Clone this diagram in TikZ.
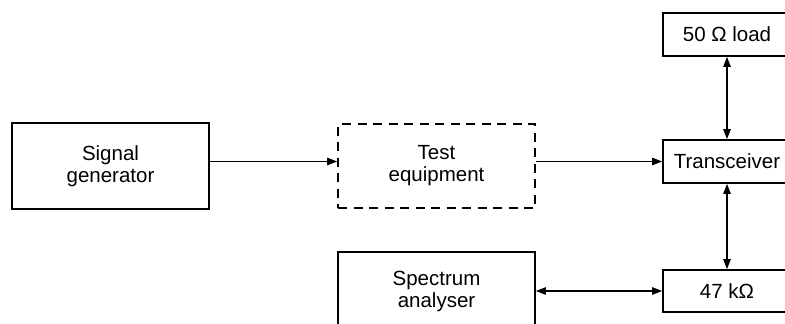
\documentclass[tikz,border=0pt]{standalone}
\usepackage{fontspec}
\setmainfont{Liberation Sans}
\usetikzlibrary{arrows.meta}
\begin{document}
\begin{tikzpicture}[x=1pt,y=-1pt,
  blk/.style={draw, line width=1.8pt, rectangle, align=center, inner sep=0pt,
    font=\fontsize{20.5}{22}\selectfont},
  conn/.style={line width=1.1pt, -{Triangle[length=10pt,width=7.5pt]}},
  bconn/.style={line width=1.1pt, {Triangle[length=10pt,width=7.5pt]}-{Triangle[length=10pt,width=7.5pt]}}]
\useasboundingbox (0,0) rectangle (785,324);
\node[blk, minimum width=197pt, minimum height=86pt] (sg) at (110.5,166) {Signal\\generator};
\node[blk, dash pattern=on 9pt off 6.5pt, minimum width=197pt, minimum height=84pt] (te) at (436.5,166) {Test\\equipment};
\node[blk, minimum width=128pt, minimum height=43pt] (tr) at (727,161.5) {Transceiver};
\node[blk, minimum width=128pt, minimum height=43pt] (lo) at (727,34.5) {50 Ω load};
\node[blk, minimum width=128pt, minimum height=42pt] (kk) at (727,291) {47 kΩ};
\node[blk, minimum width=197pt, minimum height=78pt] (sa) at (436.5,291) {Spectrum\\analyser};
\draw[conn] (sg.east |- tr.west) -- (te.west |- tr.west);
\draw[conn] (te.east |- tr.west) -- (tr.west);
\draw[bconn] (lo.south) -- (tr.north);
\draw[bconn] (tr.south) -- (kk.north);
\draw[bconn] (sa.east) -- (kk.west);
\end{tikzpicture}
\end{document}
